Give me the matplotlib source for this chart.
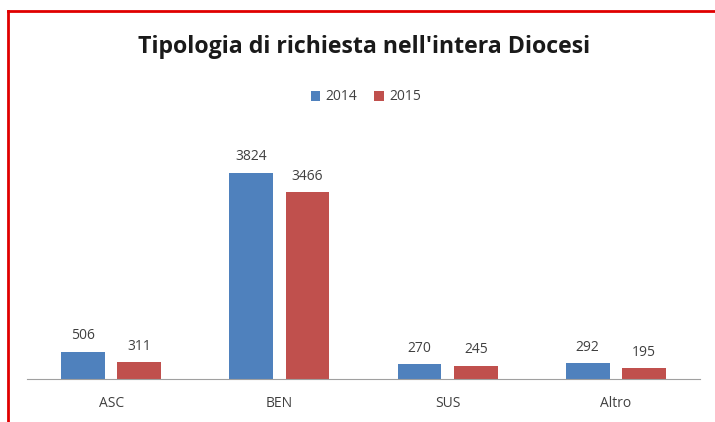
import matplotlib.pyplot as plt
import numpy as np
from matplotlib.lines import Line2D

# =========================
# DATA
# =========================
categories = ["ASC", "BEN", "SUS", "Altro"]
series_names = ["2014", "2015"]
values_2014 = [506, 3824, 270, 292]
values_2015 = [311, 3466, 245, 195]

blue = "#4F81BD"
red = "#C0504D"

plt.rcParams['font.family'] = ['Open Sans', 'DejaVu Sans']

fig = plt.figure(figsize=(7.15, 4.22), dpi=100)
fig.patch.set_facecolor("white")

# plot area (pixel based placement)
W, H = 715, 422
ax = fig.add_axes([27 / W, (H - 379) / H, (700 - 27) / W, (379 - 136) / H])

x = np.arange(len(categories))
width = 0.26
gap = 0.075
b1 = ax.bar(x - width / 2 - gap / 2, values_2014, width, color=blue, label=series_names[0])
b2 = ax.bar(x + width / 2 + gap / 2, values_2015, width, color=red, label=series_names[1])

for bars in (b1, b2):
    for rect in bars:
        ax.annotate(f"{int(rect.get_height())}",
                    (rect.get_x() + rect.get_width() / 2, rect.get_height()),
                    xytext=(0, 6), textcoords="offset points",
                    ha="center", va="bottom", fontsize=10, color="#404040")

ax.set_xlim(-0.5, len(categories) - 0.5)
ax.set_ylim(0, 4500)
ax.set_xticks(x)
ax.set_xticklabels(categories, fontsize=10, color="#404040")
ax.tick_params(axis="x", length=0, pad=12)
ax.set_yticks([])
for s in ["top", "right", "left"]:
    ax.spines[s].set_visible(False)
ax.spines["bottom"].set_color("#A0A0A0")
ax.set_facecolor("none")

fig.text(364 / W, (H - 47) / H, "Tipologia di richiesta nell'intera Diocesi",
         ha="center", va="center", fontsize=16.7, fontweight="bold", color="#1a1a1a")

fig.legend(handles=[b1, b2], labels=series_names, loc="center",
           bbox_to_anchor=(366 / W, (H - 97) / H), ncol=2, frameon=False,
           fontsize=10, handlelength=0.7, handleheight=0.7,
           handletextpad=0.4, columnspacing=1.2, labelcolor="#404040")

# red frame on top and left
fig.add_artist(Line2D([8 / W, 1], [(H - 11) / H, (H - 11) / H], color="#E00000", lw=2))
fig.add_artist(Line2D([8 / W, 8 / W], [0, (H - 11) / H], color="#E00000", lw=2))

plt.savefig("out.png", dpi=100)
